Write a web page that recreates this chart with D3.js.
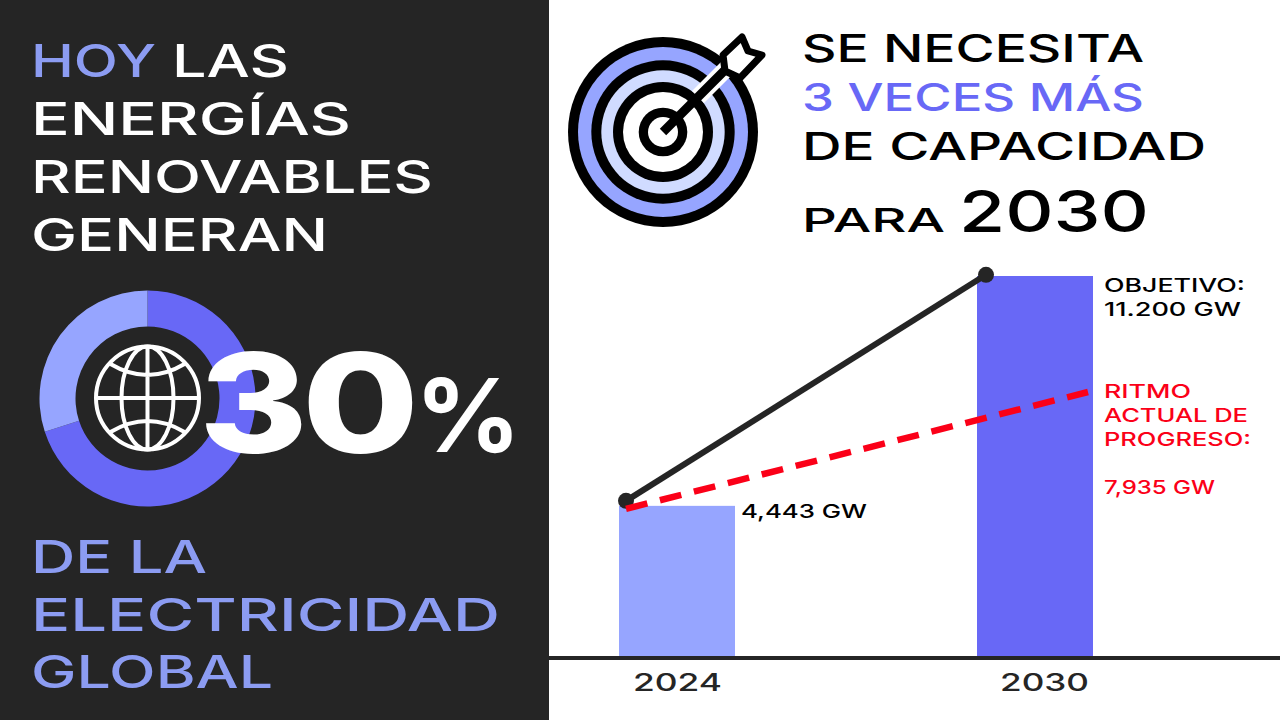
<!DOCTYPE html>
<html><head><meta charset="utf-8">
<style>html,body{margin:0;padding:0;background:#fff;overflow:hidden}svg{display:block}text{font-family:Inter,"Noto Sans",sans-serif}</style>
<script src="https://cdnjs.cloudflare.com/ajax/libs/d3/7.9.0/d3.min.js"></script>
</head><body><svg id="c" width="1280" height="720"></svg>
<script>
// Data
const years = ["2024","2030"];
const capacityGW = [4443,11200];
const goalLine = [4590,11235];
const paceLine = [4355,7790];
const shareSegments = [70,30];
const barLabels = ["4,443 GW"];

const DARK="#252525",VIOLET="#6868f6",PERI="#96a5ff",HEAD="#8c9cf2",RED="#fb0018";
const svg=d3.select("#c");
svg.append("rect").attr("width",549).attr("height",720).attr("fill",DARK);

function T(s,x,b,w,size,fill,weight){
  return svg.append("text").attr("x",x).attr("y",b).attr("font-size",size).attr("font-weight",weight||600)
    .attr("fill",fill).attr("textLength",w).attr("lengthAdjust","spacingAndGlyphs").text(s);
}
// Left panel heading
T("HOY",31,77,125,45,HEAD,500);
T("LAS",172,77,117,45,"#fff",500);
T("ENERGÍAS",31,135,320,45,"#fff",500);
T("RENOVABLES",31,193,402,45,"#fff",500);
T("GENERAN",31,251,297,45,"#fff",500);
T("DE LA",31,573,176,45,HEAD,500);
T("ELECTRICIDAD",31,631,469,45,HEAD,500);
T("GLOBAL",31,688,242,45,HEAD,500);

// Donut
const gD=svg.append("g").attr("transform","translate(147.5,398.5)");
const arc=d3.arc().innerRadius(72).outerRadius(108);
gD.selectAll("path").data(d3.pie().sort(null)(shareSegments)).join("path")
  .attr("d",arc).attr("fill",(d,i)=>i?PERI:VIOLET);

// Globe
const gG=svg.append("g").attr("transform","translate(147.5,398)").attr("fill","none").attr("stroke","#fff").attr("stroke-width",4);
gG.append("circle").attr("r",51.5);
gG.append("ellipse").attr("rx",26).attr("ry",51.5);
gG.append("path").attr("d","M0,-51.5V51.5M-51.5,0H51.5M-37,-34Q0,-12 37,-34M-37,34Q0,12 37,34");

// Big number
T("3",199,453,109,138,"#fff",800);
T("0",302,453,117,138,"#fff",800);
T("%",415,452,106,102,"#fff",700);

// Target icon
const gT=svg.append("g").attr("transform","translate(663,132)");
[[95,"#000"],[85,PERI],[71.7,"#000"],[61.7,"#d0dbff"],[50,"#000"],[40,"#fff"],[24.3,"#000"],[15,"#fff"]]
  .forEach(([r,f])=>gT.append("circle").attr("r",r).attr("fill",f));
gT.append("path").attr("d","M35,-35L72,-72").attr("stroke","#fff").attr("stroke-width",17).attr("fill","none");
gT.append("path").attr("d","M0,0L68,-68").attr("stroke","#000").attr("stroke-width",9).attr("fill","none");
gT.append("path").attr("d","M60,-77L79,-95L85,-81L99,-77L77,-54L62,-61Z")
  .attr("fill","#fff").attr("stroke","#000").attr("stroke-width",7).attr("stroke-linejoin","round");

// Right heading
T("SE NECESITA",802,62,342,38,"#000",500);
T("3 VECES MÁS",802,111,342,38,VIOLET,500);
T("DE CAPACIDAD",802,160,404,38,"#000",500);
T("PARA",802,232,143,33,"#000",500);
T("2030",959,232,190,58,"#000",500);

// Chart
const x=d3.scaleBand().domain(years).range([619,1093]).paddingInner(0.676).paddingOuter(0);
const y=d3.scaleLinear().domain([0,11200]).range([657,276]);
svg.selectAll(".bar").data(years).join("rect").attr("class","bar")
  .attr("x",d=>x(d)).attr("width",x.bandwidth())
  .attr("y",(d,i)=>y(capacityGW[i])).attr("height",(d,i)=>y(0)-y(capacityGW[i]))
  .attr("fill",(d,i)=>i?VIOLET:PERI);
svg.append("line").attr("x1",549).attr("x2",1280).attr("y1",y(0)+1).attr("y2",y(0)+1).attr("stroke",DARK).attr("stroke-width",4);

const gx=[x("2024")+7,x("2030")+9], px=[x("2024")+7,x("2030")+111];
const line=d3.line();
svg.append("path").attr("d",line(goalLine.map((v,i)=>[gx[i],y(v)]))).attr("stroke",DARK).attr("stroke-width",6).attr("fill","none");
svg.selectAll(".dot").data(goalLine).join("circle").attr("class","dot")
  .attr("cx",(d,i)=>gx[i]).attr("cy",d=>y(d)).attr("r",8).attr("fill",DARK);
svg.append("path").attr("d",line(paceLine.map((v,i)=>[px[i],y(v)]))).attr("stroke",RED).attr("stroke-width",6.5)
  .attr("stroke-dasharray","22 13").attr("fill","none");

// Labels
T(years[0],633,691,89,24,DARK,500);
T(years[1],1000,691,89,24,DARK,500);
T(barLabels[0],741,518,126,19,"#000",500);
T("OBJETIVO:",1104,292,141,19,"#000",500);
T("11.200 GW",1104,316,137,19,"#000",500);
T("RITMO",1104,398,87,19,RED,500);
T("ACTUAL DE",1104,422,144,19,RED,500);
T("PROGRESO:",1104,446,147,19,RED,500);
T("7,935 GW",1104,494,111,19,RED,500);
</script></body></html>
